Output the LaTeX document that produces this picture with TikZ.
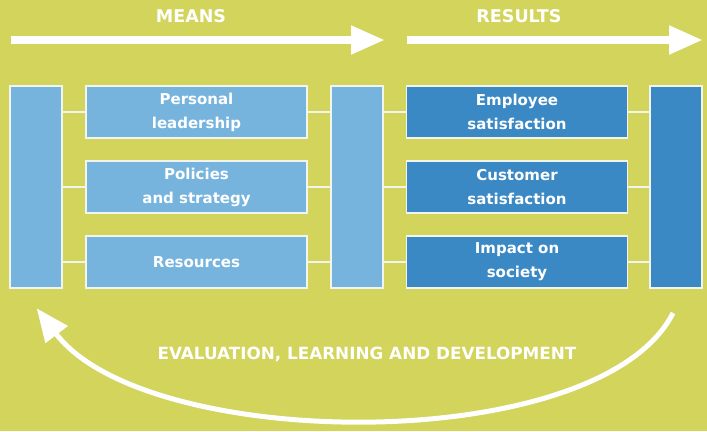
\documentclass[tikz,border=0pt]{standalone}
\usepackage{fontspec}
\setmainfont{DejaVu Sans}
\usetikzlibrary{arrows.meta}

\definecolor{bgyellow}{HTML}{D2D45C}
\definecolor{meansblue}{HTML}{76B4DE}
\definecolor{resultblue}{HTML}{3A89C5}
\definecolor{edgewhite}{HTML}{F2F4F0}

\tikzset{
  bar/.style={rectangle, draw=edgewhite, line width=1.2bp, minimum width=52bp, minimum height=202bp, inner sep=0pt},
  itembox/.style={rectangle, draw=edgewhite, line width=1.2bp, minimum width=221bp, minimum height=52bp, inner sep=0pt,
    text=white, align=center, font=\bfseries\fontsize{15bp}{24bp}\selectfont},
  meansbox/.style={itembox, fill=meansblue},
  resultbox/.style={itembox, fill=resultblue},
  link/.style={draw=edgewhite, line width=1.2bp},
  heading/.style={text=white, font=\bfseries\fontsize{17.5bp}{20bp}\selectfont, inner sep=0pt, anchor=base},
  flowarrow/.style={draw=white, line width=8bp, -{Triangle[length=34bp,width=27bp]}},
  looparrow/.style={draw=white, line width=5bp, -{Triangle[length=33bp,width=27bp]}},
  looplabel/.style={text=white, font=\bfseries\fontsize{16.8bp}{20bp}\selectfont, inner sep=0pt, anchor=base},
}

\begin{document}
\begin{tikzpicture}[x=1bp, y=-1bp]
  % canvas
  \fill[bgyellow] (0,0) rectangle (707,431);
  \useasboundingbox (0,0) rectangle (707,431);

  % headings and direction arrows
  \node[heading] (hmeans) at (191,22.7) {MEANS};
  \node[heading] (hresults) at (519,22.7) {RESULTS};
  \coordinate (m0) at (11,40);
  \coordinate (m1) at (385,40);
  \coordinate (r0) at (407,40);
  \coordinate (r1) at (703,40);
  \draw[flowarrow] (m0) -- (m1);
  \draw[flowarrow] (r0) -- (r1);

  % vertical bars
  \node[bar, fill=meansblue]  (L) at (36,187) {};
  \node[bar, fill=meansblue]  (M) at (357,187) {};
  \node[bar, fill=resultblue] (R) at (676,187) {};

  % means
  \node[meansbox] (p1) at (196.5,112) {Personal\\leadership};
  \node[meansbox] (p2) at (196.5,187) {Policies\\and strategy};
  \node[meansbox] (p3) at (196.5,262) {Resources};

  % results
  \node[resultbox] (q1) at (517,112) {Employee\\satisfaction};
  \node[resultbox] (q2) at (517,187) {Customer\\satisfaction};
  \node[resultbox] (q3) at (517,262) {Impact on\\society};

  % links between boxes and bars
  \foreach \b in {p1,p2,p3} {
    \draw[link] (\b.west) -- (L.east |- \b.west);
    \draw[link] (\b.east) -- (M.west |- \b.east);
  }
  \foreach \b in {q1,q2,q3} {
    \draw[link] (\b.west) -- (M.east |- \b.west);
    \draw[link] (\b.east) -- (R.west |- \b.east);
  }

  % feedback loop
  \node[looplabel] (loop) at (367,359) {EVALUATION, LEARNING AND DEVELOPMENT};
  \coordinate (c0) at (673,313);
  \coordinate (c1) at (36.7,308.3);
  \draw[looparrow] (c0) .. controls (600,457) and (146.7,453) .. (c1);
\end{tikzpicture}
\end{document}
